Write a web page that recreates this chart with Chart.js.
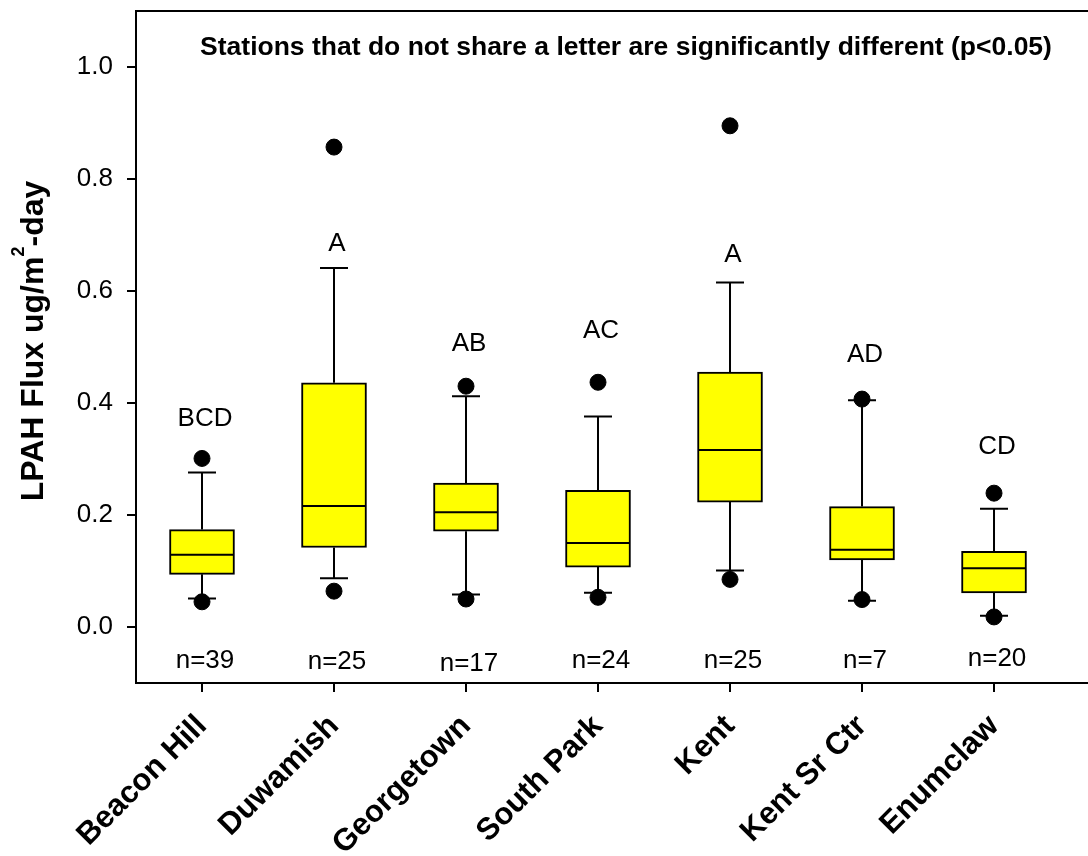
<!DOCTYPE html>
<html>
<head>
<meta charset="utf-8">
<script src="https://cdn.jsdelivr.net/npm/chart.js@4.4.0/dist/chart.umd.min.js"></script>
<style>
  html, body { margin: 0; padding: 0; background: #fff; overflow: hidden; }
</style>
</head>
<body>
<canvas id="fluxChart" width="1097" height="856"></canvas>
<script>
// station data
const stations = ['Beacon Hill', 'Duwamish', 'Georgetown', 'South Park', 'Kent', 'Kent Sr Ctr', 'Enumclaw'];
const q1 = [0.094, 0.142, 0.171, 0.107, 0.223, 0.120, 0.061];
const medians = [0.129, 0.216, 0.205, 0.150, 0.316, 0.138, 0.105];
const q3 = [0.174, 0.436, 0.257, 0.244, 0.455, 0.215, 0.135];
const whiskerLow = [0.051, 0.087, 0.058, 0.061, 0.101, 0.047, 0.020];
const whiskerHigh = [0.276, 0.641, 0.412, 0.376, 0.615, 0.405, 0.211];
const outlierLow = [0.045, 0.064, 0.050, 0.053, 0.085, 0.049, 0.018];
const outlierHigh = [0.301, 0.857, 0.430, 0.437, 0.895, 0.407, 0.239];

// letters and sample sizes shown above / below each box
const letters = ['BCD', 'A', 'AB', 'AC', 'A', 'AD', 'CD'];
const letterPos = [0.371, 0.685, 0.506, 0.528, 0.664, 0.486, 0.321];
const counts = [39, 25, 17, 24, 25, 7, 20];
const countPos = [-0.061, -0.062, -0.065, -0.061, -0.061, -0.061, -0.056];

const yTicks = [0.0, 0.2, 0.4, 0.6, 0.8, 1.0];
const noteText = 'Stations that do not share a letter are significantly different (p<0.05)';

const FONT = "'Liberation Sans', Arial, sans-serif";
const noPadding = () => ({ left: 0, top: 0, right: 0, bottom: 0 });

// whiskers, caps, medians and the text inside the plot
const boxExtras = {
    id: 'boxExtras',
    beforeDatasetsDraw(chart) {
        const { ctx, scales: { x, y } } = chart;
        ctx.save();
        ctx.strokeStyle = '#000';
        ctx.lineWidth = 2;
        ctx.beginPath();
        stations.forEach((s, i) => {
            const px = x.getPixelForValue(i + 1);
            const hi = y.getPixelForValue(whiskerHigh[i]);
            const lo = y.getPixelForValue(whiskerLow[i]);
            ctx.moveTo(px, y.getPixelForValue(q3[i]));
            ctx.lineTo(px, hi);
            ctx.moveTo(px, y.getPixelForValue(q1[i]));
            ctx.lineTo(px, lo);
            ctx.moveTo(px - 14, hi);
            ctx.lineTo(px + 14, hi);
            ctx.moveTo(px - 14, lo);
            ctx.lineTo(px + 14, lo);
        });
        ctx.stroke();
        ctx.restore();
    },
    afterDatasetsDraw(chart) {
        const { ctx, chartArea, scales: { x, y } } = chart;
        ctx.save();
        ctx.strokeStyle = '#000';
        ctx.lineWidth = 2;
        ctx.beginPath();
        stations.forEach((s, i) => {
            const px = x.getPixelForValue(i + 1);
            const py = y.getPixelForValue(medians[i]);
            ctx.moveTo(px - 31, py);
            ctx.lineTo(px + 31, py);
        });
        // top frame line
        ctx.moveTo(chartArea.left - 1, chartArea.top);
        ctx.lineTo(chart.width, chartArea.top);
        ctx.stroke();

        ctx.fillStyle = '#000';
        ctx.textAlign = 'center';
        ctx.textBaseline = 'middle';
        ctx.font = '26px ' + FONT;
        stations.forEach((s, i) => {
            const px = x.getPixelForValue(i + 1) + 3;
            ctx.fillText(letters[i], px, y.getPixelForValue(letterPos[i]));
            ctx.fillText('n=' + counts[i], px, y.getPixelForValue(countPos[i]));
        });

        ctx.font = 'bold 26.5px ' + FONT;
        ctx.fillText(noteText, 626, 48);

        // y axis title with a real superscript
        const main = 'LPAH Flux ug/m', sup = '2', tail = '-day';
        ctx.textAlign = 'left';
        ctx.textBaseline = 'alphabetic';
        ctx.font = 'bold 32px ' + FONT;
        const w1 = ctx.measureText(main).width, w3 = ctx.measureText(tail).width;
        ctx.font = 'bold 18px ' + FONT;
        const w2 = ctx.measureText(sup).width;
        const total = w1 + w2 + w3;
        const cy = (chartArea.top + chartArea.bottom) / 2 - 6;
        ctx.translate(43, cy + total / 2);
        ctx.rotate(-Math.PI / 2);
        ctx.font = 'bold 32px ' + FONT;
        ctx.fillText(main, 0, 0);
        ctx.font = 'bold 18px ' + FONT;
        ctx.fillText(sup, w1, -19);
        ctx.font = 'bold 32px ' + FONT;
        ctx.fillText(tail, w1 + w2, 0);
        ctx.restore();
    }
};

const ctx = document.getElementById('fluxChart').getContext('2d');
new Chart(ctx, {
    type: 'bar',
    data: {
        datasets: [{
            type: 'bar',
            data: stations.map((s, i) => ({ x: i + 1, y: [q1[i], q3[i]] })),
            backgroundColor: '#ffff00',
            borderColor: '#000',
            borderWidth: 2,
            borderSkipped: false,
            barThickness: 65,
            order: 2
        }, {
            type: 'scatter',
            data: stations.map((s, i) => ({ x: i + 1, y: outlierHigh[i] }))
                .concat(stations.map((s, i) => ({ x: i + 1, y: outlierLow[i] }))),
            backgroundColor: '#000',
            borderColor: '#000',
            pointRadius: 8,
            order: 1
        }]
    },
    options: {
        responsive: false,
        animation: false,
        layout: { padding: { top: 11, right: 0, left: 0, bottom: 0 } },
        plugins: {
            legend: { display: false },
            tooltip: { enabled: false }
        },
        scales: {
            x: {
                type: 'linear',
                offset: false,
                min: 0.5,
                max: 7.712,
                afterBuildTicks: scale => { scale.ticks = stations.map((s, i) => ({ value: i + 1 })); },
                afterFit: scale => {
                    scale.height = 173;
                    scale.paddingLeft = 0;
                    scale.paddingRight = 0;
                    scale.getPadding = noPadding;
                },
                grid: { offset: false, drawOnChartArea: false, color: '#000', lineWidth: 2, tickLength: 9 },
                border: { color: '#000', width: 2 },
                ticks: {
                    autoSkip: false,
                    minRotation: 45,
                    maxRotation: 45,
                    padding: 16,
                    color: '#000',
                    font: { family: FONT, size: 31, weight: 'bold' },
                    callback: v => stations[v - 1]
                }
            },
            y: {
                min: -0.1,
                max: 1.1,
                afterBuildTicks: scale => { scale.ticks = yTicks.map(v => ({ value: v })); },
                afterFit: scale => {
                    scale.width = 136;
                    scale.paddingTop = 0;
                    scale.paddingBottom = 0;
                    scale.getPadding = noPadding;
                },
                grid: { drawOnChartArea: false, color: '#000', lineWidth: 2, tickLength: 9 },
                border: { color: '#000', width: 2 },
                ticks: {
                    padding: 14,
                    color: '#000',
                    font: { family: FONT, size: 26 },
                    callback: v => v.toFixed(1)
                }
            }
        }
    },
    plugins: [boxExtras]
});
</script>
</body>
</html>
